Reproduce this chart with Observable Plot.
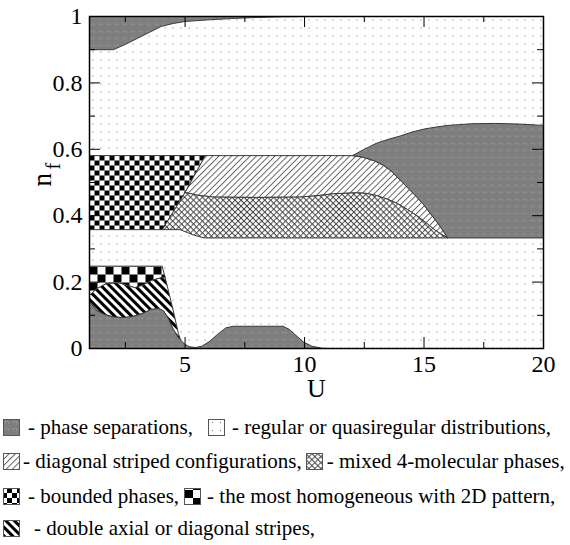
<!DOCTYPE html>
<html><head><meta charset="utf-8">
<script src="https://cdn.jsdelivr.net/npm/d3@7"></script>
<script src="https://cdn.jsdelivr.net/npm/@observablehq/plot@0.6"></script>
<style>
body{margin:0;background:#fff;}
#wrap{position:relative;width:570px;height:545px;font-family:"Liberation Serif",Tinos,"Times New Roman",Times,serif;color:#000;}
#wrap > svg.plot{position:absolute;left:0;top:0;}
.lg{position:absolute;left:0;height:20px;font-size:21px;white-space:nowrap;display:flex;align-items:center;}
.lg svg{flex:none;}
</style></head><body><div id="wrap"></div>
<script>
// ---- ticks ----
const xMajor = [5, 10, 15, 20];
const xMinor = [2.5, 7.5, 12.5, 17.5];
const yMajor = [0, 0.2, 0.4, 0.6, 0.8, 1];
const yMinor = [0.1, 0.3, 0.5, 0.7, 0.9];

// ---- phase boundaries [U, n_f] ----
const topSepEdge = [[1,0.90],[2.0,0.90],[2.5,0.916],[3.0,0.934],[3.5,0.952],[4.0,0.970],[4.5,0.979],[5.0,0.985],[6,0.990],[7,0.994],[8,0.997],[9,0.999],[10,1.0]];
const boundedTop = [[1,0.581],[5.85,0.581]];
const boundedSlant = [[5.85,0.581],[5.0,0.47],[4.05,0.358]];
const boundedBottom = [[4.05,0.358],[1,0.358]];
const stripeGrayEdge = [[12.0,0.581],[12.4,0.577],[12.9,0.566],[13.3,0.552],[13.6,0.536],[14.1,0.50],[14.4,0.478],[14.7,0.456],[15.0,0.432],[15.27,0.406],[15.5,0.385],[15.7,0.365],[15.85,0.349],[16.0,0.333]];
const crossTop = [[5.0,0.47],[5.5,0.462],[6.2,0.456],[8,0.455],[9.8,0.456],[10.5,0.46],[11.2,0.466],[12.2,0.469],[12.6,0.467],[13.0,0.461],[13.5,0.449],[13.9,0.436],[14.3,0.419],[14.7,0.40],[15.1,0.378],[15.4,0.36],[15.7,0.345],[16.0,0.333]];
const crossBottom = [[4.05,0.358],[4.8,0.358],[5.3,0.343],[5.8,0.333],[16,0.333]];
const grayTopRight = [[12,0.581],[12.5,0.600],[13,0.618],[13.5,0.630],[14,0.640],[14.5,0.652],[15,0.661],[15.5,0.667],[16,0.672],[17,0.677],[18,0.678],[19,0.676],[20,0.672]];
const grayFloorRight = [[20,0.333],[16,0.333]];
const homoTop = [[1,0.248],[4.04,0.248]];
const slantEdge = [[4.04,0.248],[4.17,0.213],[4.35,0.16],[4.55,0.10],[4.72,0.045],[4.82,0.025]];
const homoBottom = [[1,0.16],[1.3,0.18],[1.7,0.195],[2.2,0.198],[2.6,0.19],[2.9,0.183],[3.2,0.19],[3.6,0.205],[4.0,0.213],[4.17,0.213]];
const grayTopLeft = [[1,0.14],[1.3,0.115],[1.6,0.103],[2.0,0.095],[2.4,0.093],[2.8,0.096],[3.2,0.105],[3.6,0.118],[3.9,0.12],[4.1,0.113],[4.3,0.09],[4.5,0.058],[4.7,0.035],[4.82,0.025]];
const bowlEdge = [[5.0,0.012],[5.2,0.005],[5.45,0.003],[5.7,0.007],[6.0,0.02],[6.35,0.042],[6.7,0.062],[7.0,0.067],[9.1,0.067],[9.35,0.058],[9.6,0.042],[9.95,0.02],[10.3,0.007],[10.8,0]];

// ---- polygons assembled from boundaries ----
const rev = a => a.slice().reverse();
const regions = [
  {pts: [[1,1], ...topSepEdge, [1,1]], fill: "url(#pSep)"},
  {pts: [...boundedTop, ...boundedSlant.slice(1), ...boundedBottom.slice(1), [1,0.581]], fill: "url(#pBound)"},
  {pts: [[5.85,0.581], ...stripeGrayEdge, ...rev(crossTop).slice(1), [5.85,0.581]], fill: "url(#pDiag)"},
  {pts: [...crossTop, ...rev(crossBottom).slice(1), [5.0,0.47]], fill: "url(#pCross)"},
  {pts: [...grayTopRight, ...grayFloorRight, ...rev(stripeGrayEdge)], fill: "url(#pSep)"},
  {pts: [...homoTop, ...slantEdge.slice(1,2), ...rev(homoBottom).slice(1), [1,0.248]], fill: "url(#pHomo)"},
  {pts: [...homoBottom, ...slantEdge.slice(2), ...rev(grayTopLeft).slice(1), [1,0.16]], fill: "url(#pDouble)"},
  {pts: [[1,0], ...grayTopLeft, ...bowlEdge, [1,0]], fill: "url(#pSep)"}
];

const defsSvg = `
<svg xmlns="http://www.w3.org/2000/svg" width="0" height="0" style="position:absolute;left:0;top:0">
<defs>
<pattern id="pSep" patternUnits="userSpaceOnUse" width="8" height="7"><rect width="8" height="7" fill="#7e7e7e"/>
  <rect x="2" y="2" width="1" height="1" fill="#b0b0b0"/><rect x="4" y="2" width="1" height="1" fill="#b0b0b0"/>
  <rect x="3" y="3" width="1" height="1" fill="#b0b0b0"/><rect x="5" y="3" width="1" height="1" fill="#b0b0b0"/>
  <rect x="3" y="2" width="1" height="1" fill="#555"/><rect x="4" y="3" width="1" height="1" fill="#555"/></pattern>
<pattern id="pDots" patternUnits="userSpaceOnUse" x="89" y="16" width="8" height="8" ><rect width="8" height="8" fill="#fff"/><rect x="3" y="3" width="1" height="1" fill="#666"/></pattern>
<pattern id="pDiag" patternUnits="userSpaceOnUse" width="4.4" height="10" patternTransform="rotate(45)"><rect width="4.4" height="10" fill="#fff"/><line x1="0.5" y1="0" x2="0.5" y2="10" stroke="#555" stroke-width="0.9"/></pattern>
<pattern id="pCross" patternUnits="userSpaceOnUse" width="4.2" height="4.2" patternTransform="rotate(45)"><rect width="4.2" height="4.2" fill="#fff"/><path d="M0.5,0V4.2M0,0.5H4.2" stroke="#444" stroke-width="0.9" fill="none"/></pattern>
<pattern id="pBound" patternUnits="userSpaceOnUse" x="89" y="155" width="10" height="10"><rect width="10" height="10" fill="#fff"/><rect width="5" height="5" fill="#000"/><rect x="5" y="5" width="5" height="5" fill="#000"/></pattern>
<pattern id="pHomo" patternUnits="userSpaceOnUse" x="89" y="266" width="16" height="16"><rect width="16" height="16" fill="#fff"/><rect width="8" height="8" fill="#000"/><rect x="8" y="8" width="8" height="8" fill="#000"/></pattern>
<pattern id="pDouble" patternUnits="userSpaceOnUse" width="6" height="10" patternTransform="rotate(-45)"><rect width="6" height="10" fill="#fff"/><rect width="3" height="10" fill="#000"/></pattern>
</defs></svg>`;

const W = 570, H = 405, mL = 89, mR = 27, mT = 16, mB = 57;
const iW = W - mL - mR, iH = H - mT - mB;

const polyMarks = regions.map(r => Plot.line(r.pts, {x: d => d[0], y: d => d[1], fill: r.fill, stroke: "#3a3a3a", strokeWidth: 1, curve: "linear"}));

const plot = Plot.plot({
  width: W, height: H,
  marginLeft: mL, marginRight: mR, marginTop: mT, marginBottom: mB,
  x: {domain: [1, 20]},
  y: {domain: [0, 1]},
  style: {fontFamily: "'Liberation Serif', Tinos, 'Times New Roman', Times, serif", background: "transparent", overflow: "visible"},
  marks: [
    Plot.frame({fill: "url(#pDots)", stroke: null}),
    ...polyMarks,
    Plot.ruleX(xMajor, {x: d => d, insetTop: iH - 11, stroke: "#000"}),
    Plot.ruleX(xMajor, {x: d => d, insetBottom: iH - 11, stroke: "#000"}),
    Plot.ruleX(xMinor, {x: d => d, insetTop: iH - 6, stroke: "#000"}),
    Plot.ruleX(xMinor, {x: d => d, insetBottom: iH - 6, stroke: "#000"}),
    Plot.ruleY(yMajor, {y: d => d, insetRight: iW - 11, stroke: "#000"}),
    Plot.ruleY(yMajor, {y: d => d, insetLeft: iW - 11, stroke: "#000"}),
    Plot.ruleY(yMinor, {y: d => d, insetRight: iW - 6, stroke: "#000"}),
    Plot.ruleY(yMinor, {y: d => d, insetLeft: iW - 6, stroke: "#000"}),
    Plot.frame({stroke: "#000", strokeWidth: 1.5}),
    Plot.axisX(xMajor, {tickSize: 0, tickPadding: 6, fontSize: 24, label: null, tickFormat: d => String(d)}),
    Plot.axisY(yMajor, {tickSize: 0, tickPadding: 7, fontSize: 24, label: null, tickFormat: d => String(d)}),
    Plot.text(["U"], {frameAnchor: "bottom", dy: 48, fontSize: 26}),
    Plot.text(["n"], {frameAnchor: "left", dx: -47, dy: 4, rotate: -90, fontSize: 27}),
    Plot.text(["f"], {frameAnchor: "left", dx: -36, dy: -13, rotate: -90, fontSize: 20})
  ]
});
plot.classList.add("plot");

const wrap = document.getElementById("wrap");
wrap.insertAdjacentHTML("beforeend", defsSvg);
wrap.appendChild(plot);

const icon = id => `<svg width="17" height="17"><rect x="0.5" y="0.5" width="16" height="16" fill="url(#${id})" stroke="#555"/></svg>`;
const legendRows = [
  {top: 417, html: `<span style="margin-left:3px"></span>${icon("pSep")}<span style="margin-left:8px">- phase separations,</span><span style="margin-left:15px"></span>${icon("pDots")}<span style="margin-left:7px">- regular or quasiregular distributions,</span>`},
  {top: 451, html: `<span style="margin-left:3px"></span>${icon("pDiag")}<span style="margin-left:3px">- diagonal striped configurations,</span><span style="margin-left:4px"></span>${icon("pCross")}<span style="margin-left:4px">- mixed 4-molecular phases,</span>`},
  {top: 486, html: `<span style="margin-left:3px"></span>${icon("pBound")}<span style="margin-left:8px">- bounded phases,</span><span style="margin-left:5px"></span>${icon("pHomo")}<span style="margin-left:6px">- the most homogeneous with 2D pattern,</span>`},
  {top: 518, html: `<span style="margin-left:3px"></span>${icon("pDouble")}<span style="margin-left:14px">- double axial or diagonal stripes,</span>`}
];
for (const r of legendRows) {
  const d = document.createElement("div");
  d.className = "lg";
  d.style.top = r.top + "px";
  d.innerHTML = r.html;
  wrap.appendChild(d);
}
</script></body></html>
